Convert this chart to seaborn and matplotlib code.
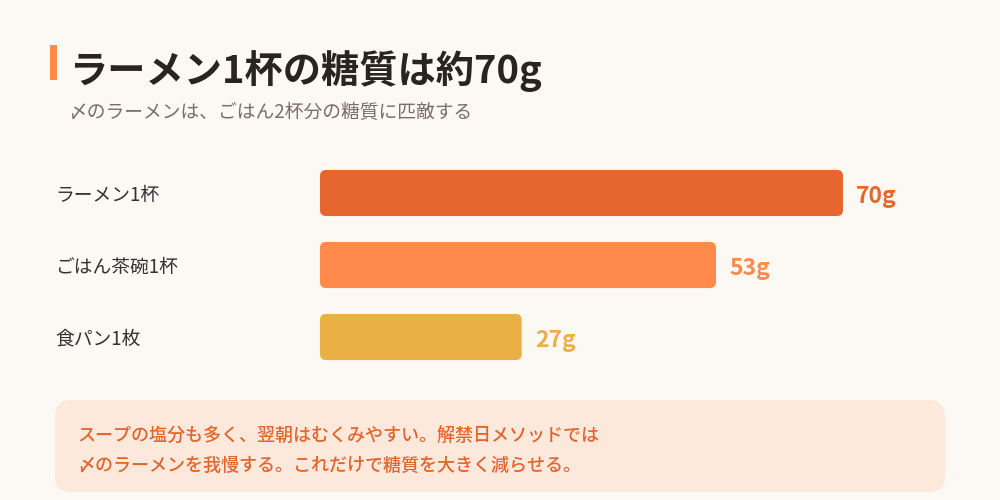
import pandas as pd
import matplotlib.pyplot as plt
import seaborn as sns
from matplotlib.patches import FancyBboxPatch

# Data
categories = ['ラーメン1杯', 'ごはん茶碗1杯', '食パン1枚']
carbs_g = [70, 53, 27]
bar_colors = ['#E5672F', '#FF8A4C', '#EBB045']

title = 'ラーメン1杯の糖質は約70g'
subtitle = '〆のラーメンは、ごはん2杯分の糖質に匹敵する'
note_lines = ['スープの塩分も多く、翌朝はむくみやすい。解禁日メソッドでは',
              '〆のラーメンを我慢する。これだけで糖質を大きく減らせる。']

BG = '#FCF8F4'

sns.set_theme(style='white')
plt.rcParams['font.family'] = ['Noto Sans CJK JP', 'DejaVu Sans']

df = pd.DataFrame({'category': categories, 'carbs': carbs_g})

fig = plt.figure(figsize=(10, 5), dpi=100, facecolor=BG)
ax = fig.add_axes([0.32, 0.254, 0.523, 0.432])
ax.set_facecolor(BG)

sns.barplot(data=df, x='carbs', y='category', hue='category', palette=bar_colors,
            order=categories, hue_order=categories, width=0.64, saturation=1,
            legend=False, ax=ax)
ax.set_xlim(0, 70)
ax.set_ylim(2.5, -0.5)

# swap plain rectangles for rounded ones
px_x = 523 / 70.0
px_y = 72.0
for patch in list(ax.patches):
    x, y = patch.get_x(), patch.get_y()
    w, h = patch.get_width(), patch.get_height()
    fc = patch.get_facecolor()
    patch.remove()
    rounded = FancyBboxPatch((x, y), w, h,
                             boxstyle='round,pad=0,rounding_size=%f' % (6 / px_x),
                             mutation_aspect=px_x / px_y,
                             facecolor=fc, edgecolor='none')
    ax.add_patch(rounded)

# value labels
for i, (v, c) in enumerate(zip(carbs_g, bar_colors)):
    ax.text(v + 13 / px_x, i + 0.05, f'{v}g', color=c, fontsize=16.5, fontweight='bold',
            va='center', ha='left', clip_on=False)

# category labels on the left
for i, cat in enumerate(categories):
    ax.text(-265 / px_x, i + 0.03, cat, color='#333333', fontsize=13.5, va='center',
            ha='left', clip_on=False)

ax.set_xlabel('')
ax.set_ylabel('')
ax.set_xticks([])
ax.set_yticks([])
sns.despine(ax=ax, left=True, bottom=True)

# title block
fig.patches.append(FancyBboxPatch((50 / 1000, 1 - 80 / 500), 7 / 1000, 35 / 500,
                                  boxstyle='square,pad=0', transform=fig.transFigure,
                                  facecolor='#FF8A4C', edgecolor='none'))
fig.text(69 / 1000, 1 - 71 / 500, title, fontsize=27.5, fontweight='bold',
         color='#2A2420', va='center', ha='left')
fig.text(68 / 1000, 1 - 112 / 500, subtitle, fontsize=13.5, color='#7A6E66',
         va='center', ha='left')

# note box
fig.patches.append(FancyBboxPatch((55 / 1000, 1 - 492 / 500), 890 / 1000, 92 / 500,
                                  boxstyle='round,pad=0,rounding_size=0.016',
                                  mutation_aspect=2.0,
                                  transform=fig.transFigure,
                                  facecolor='#FDE9DC', edgecolor='none'))
for j, line in enumerate(note_lines):
    fig.text(77 / 1000, 1 - (437 + 29 * j) / 500, line, fontsize=13, fontweight='medium',
             color='#E0662E', va='center', ha='left')

fig.savefig('out.png', dpi=100, facecolor=BG)
